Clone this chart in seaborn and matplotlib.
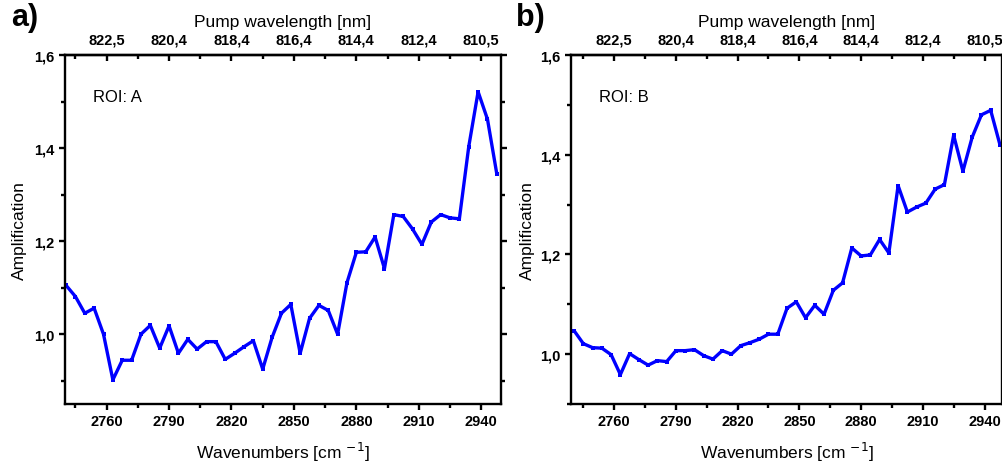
import matplotlib
matplotlib.use("Agg")
import matplotlib.pyplot as plt
from matplotlib.ticker import FixedLocator, MultipleLocator
import seaborn as sns
import pandas as pd

sns.set_style("ticks")
plt.rcParams["font.family"] = ["Liberation Sans", "DejaVu Sans"]
plt.rcParams.update({
    "text.color": "black",
    "axes.labelcolor": "black",
    "xtick.color": "black",
    "ytick.color": "black",
    "axes.edgecolor": "black",
})

# Stokes wavenumber axis (cm^-1), shared by both regions of interest
wavenumbers = [2740.5, 2745.0, 2749.5, 2754.0, 2758.5, 2763.0, 2767.5, 2772.0,
               2776.5, 2781.0, 2785.5, 2790.0, 2794.5, 2799.0, 2803.5, 2808.0,
               2812.5, 2817.0, 2821.5, 2826.0, 2830.5, 2835.0, 2839.5, 2844.0,
               2848.5, 2853.0, 2857.5, 2862.0, 2866.5, 2871.0, 2875.5, 2880.0,
               2884.5, 2889.0, 2893.5, 2898.0, 2902.5, 2907.0, 2911.5, 2916.0,
               2920.5, 2925.0, 2929.5, 2934.0, 2938.5, 2943.0, 2947.5]

# Amplification in ROI A
amp_a = [1.105, 1.081, 1.045, 1.056, 1.000, 0.902, 0.944, 0.944, 1.000, 1.019,
         0.970, 1.018, 0.959, 0.989, 0.968, 0.984, 0.984, 0.946, 0.959, 0.973,
         0.986, 0.925, 0.993, 1.045, 1.064, 0.959, 1.034, 1.062, 1.051, 1.000,
         1.111, 1.176, 1.177, 1.209, 1.141, 1.257, 1.253, 1.226, 1.193, 1.241,
         1.257, 1.250, 1.248, 1.403, 1.521, 1.462, 1.344]

# Amplification in ROI B
amp_b = [1.047, 1.021, 1.013, 1.012, 0.999, 0.959, 1.001, 0.989, 0.978, 0.987,
         0.985, 1.007, 1.007, 1.009, 0.997, 0.990, 1.007, 1.000, 1.017, 1.023,
         1.030, 1.040, 1.040, 1.092, 1.105, 1.073, 1.098, 1.080, 1.128, 1.143,
         1.213, 1.197, 1.199, 1.230, 1.203, 1.338, 1.285, 1.295, 1.303, 1.331,
         1.340, 1.439, 1.367, 1.435, 1.480, 1.489, 1.420]

# Bottom axis ticks and matching pump wavelengths for the top axis
wn_ticks = [2760, 2790, 2820, 2850, 2880, 2910, 2940]
pump_labels = ["822,5", "820,4", "818,4", "816,4", "814,4", "812,4", "810,5"]
y_ticks = [1.0, 1.2, 1.4, 1.6]
y_labels = ["1,0", "1,2", "1,4", "1,6"]

panels = [
    dict(tag="a)", roi="ROI: A", amp=amp_a, xlim=(2740, 2949.5), ylim=(0.85, 1.6),
         rect=[65 / 1003, 1 - 405 / 464, 436 / 1003, 349 / 464], tagx=11 / 1003,
         ypad=5),
    dict(tag="b)", roi="ROI: B", amp=amp_b, xlim=(2739, 2948.5), ylim=(0.9, 1.6),
         rect=[571 / 1003, 1 - 405 / 464, 431 / 1003, 349 / 464], tagx=516 / 1003,
         ypad=4),
]

fig = plt.figure(figsize=(10.03, 4.64), dpi=100)
blue = "#0000ff"

for p in panels:
    ax = fig.add_axes(p["rect"])
    df = pd.DataFrame({"wn": wavenumbers, "amp": p["amp"]})
    sns.lineplot(data=df, x="wn", y="amp", ax=ax, color=blue, linewidth=2.4,
                 marker="s", markersize=3.4, markeredgewidth=0, markerfacecolor=blue)
    ax.set_xlim(*p["xlim"])
    ax.set_ylim(*p["ylim"])

    for s in ax.spines.values():
        s.set_visible(True)
        s.set_linewidth(1.7)
        s.set_color("black")

    ax.xaxis.set_major_locator(FixedLocator(wn_ticks))
    ax.xaxis.set_minor_locator(MultipleLocator(15))
    ax.set_xticklabels([str(t) for t in wn_ticks])
    ax.yaxis.set_major_locator(FixedLocator(y_ticks))
    ax.yaxis.set_minor_locator(MultipleLocator(0.1))
    ax.set_yticklabels(y_labels)

    ax.tick_params(axis="x", which="both", direction="out", bottom=True, top=False,
                   labelsize=10.5, pad=3, width=1.7)
    ax.tick_params(axis="y", which="both", direction="out", left=True, right=True,
                   labelright=False, labelsize=10.5, pad=3, width=1.7)
    ax.tick_params(which="major", length=4.5)
    ax.tick_params(which="minor", length=3)
    for lab in ax.get_xticklabels() + ax.get_yticklabels():
        lab.set_fontweight("bold")

    ax.set_xlabel("Wavenumbers [cm $^{-1}$]", fontsize=12.5, labelpad=8)
    ax.set_ylabel("Amplification", fontsize=12.5, labelpad=p["ypad"])

    top = ax.secondary_xaxis("top")
    top.xaxis.set_major_locator(FixedLocator(wn_ticks))
    top.xaxis.set_minor_locator(MultipleLocator(15))
    top.set_xticklabels(pump_labels)
    top.tick_params(axis="x", which="both", direction="in", labelsize=10.5, pad=6, width=1.7)
    top.tick_params(which="major", length=4.5)
    top.tick_params(which="minor", length=3)
    for lab in top.get_xticklabels():
        lab.set_fontweight("bold")
    top.spines["top"].set_linewidth(1.7)
    top.set_xlabel("Pump wavelength [nm]", fontsize=12.5, labelpad=5)

    ax.text(0.065, 0.88, p["roi"], transform=ax.transAxes, fontsize=12,
            ha="left", va="center")
    fig.text(p["tagx"], 0.962, p["tag"], fontsize=22, fontweight="bold",
             ha="left", va="center")

fig.savefig("out.png", dpi=100)
